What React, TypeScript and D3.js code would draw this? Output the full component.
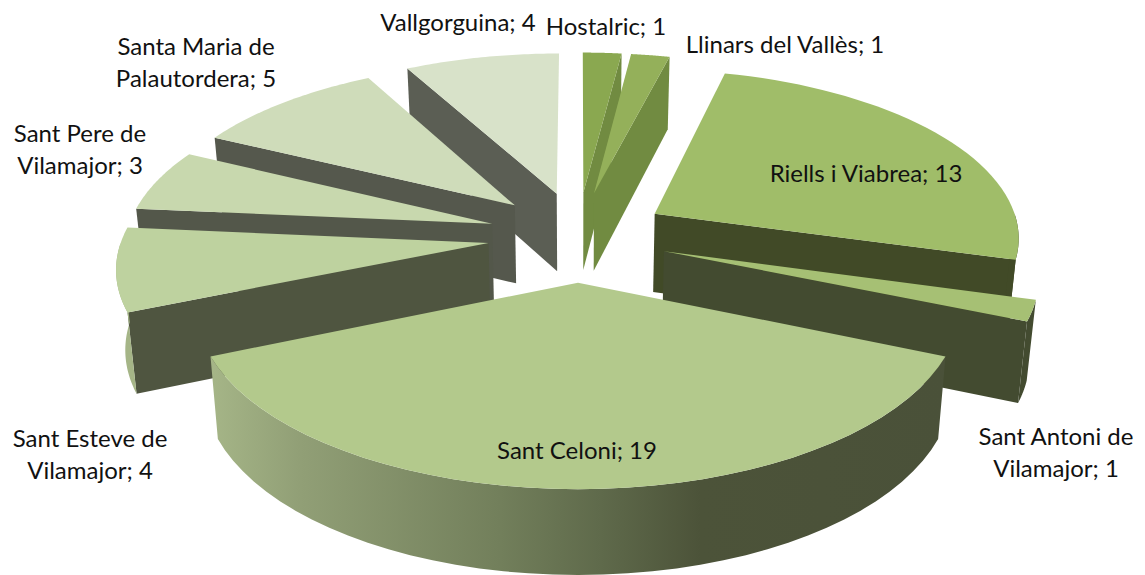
import React from 'react';
import * as d3 from 'd3';

const towns = ['Hostalric', 'Llinars del Vallès', 'Riells i Viabrea', 'Sant Antoni de Vilamajor', 'Sant Celoni', 'Sant Esteve de Vilamajor', 'Sant Pere de Vilamajor', 'Santa Maria de Palautordera', 'Vallgorguina'];
const counts = [1, 1, 13, 1, 19, 4, 3, 5, 4];
const labelLines = [['Hostalric; 1'], ['Llinars del Vallès; 1'], ['Riells i Viabrea; 13'], ['Sant Antoni de', 'Vilamajor; 1'], ['Sant Celoni; 19'], ['Sant Esteve de', 'Vilamajor; 4'], ['Sant Pere de', 'Vilamajor; 3'], ['Santa Maria de', 'Palautordera; 5'], ['Vallgorguina; 4']];
const labelX = [606, 785, 866, 1056, 577, 90, 80, 196, 458];
const labelY = [35, 53, 182, 445, 459, 447, 142, 55, 31];

const topColors = ['#8aa850', '#94b05a', '#a0bd69', '#a6c074', '#b3c98c', '#bed29f', '#c8d8ae', '#cfdcba', '#d8e2c9'];
const wallColors = ['#718b41', '#718b41', '#414a27', '#434b30', '#4a5139', '#4f5540', '#53574a', '#55584d', '#5b5e54'];
const celoniStops: [number, string][] = [[0, '#a5b587'], [0.12, '#919f76'], [0.393, '#727f5b'], [0.53, '#5f6a4b'], [0.666, '#4c5339'], [1, '#4a5139']];

const W = 1145, H = 575;
const cx = 578, cy = 236;
const rx = 366, ry = 172;
const persp = 0.129;   // near things get bigger
const explode = 0.246;
const explodeY = 0.262;
const squash = 0.975;   // rim is a bit flatter than the explode offset
const depth = 79;

// pie plane -> screen. z=0 top face, z=1 bottom face
const project = (X: number, Y: number, z: number): [number, number] => {
  const s = 1 / (1 - persp * Y);
  const px = cx + rx * X * s;
  const py = cy + ry * Y * s;
  if (!z) return [px, py];
  return [cx + (px - cx) * 0.98, py + depth * (1 + 0.07 * Y)];
};

const lineGen = d3.line().curve(d3.curveLinear);

const pie = d3.pie<number>().sort(null).value(d => d);

export default function App() {
  const arcs = pie(counts);
  const slices = arcs.map((a, i) => {
    const mid = (a.startAngle + a.endAngle) / 2;
    const ox = explode * Math.sin(mid), oy = -explodeY * Math.cos(mid);
    const rim = (t: number, z: number) => project(ox + Math.sin(t), oy - squash * Math.cos(t), z);
    const apex = (z: number) => project(ox, oy, z);
    const steps = d3.range(0, 41).map(k => a.startAngle + (a.endAngle - a.startAngle) * k / 40);
    const top = lineGen([apex(0), ...steps.map(t => rim(t, 0))]) + 'Z';
    // radial wall that faces the viewer
    let radial = '';
    const edge = a.endAngle <= Math.PI ? a.endAngle : a.startAngle >= Math.PI ? a.startAngle : null;
    if (edge !== null) {
      radial = lineGen([apex(0), rim(edge, 0), rim(edge, 1), apex(1)]) + 'Z';
    }
    // outer wall, front half only
    const from = Math.max(a.startAngle, Math.PI / 2), to = Math.min(a.endAngle, Math.PI * 1.5);
    let outer = '';
    if (to > from) {
      const vis = d3.range(0, 41).map(k => from + (to - from) * k / 40);
      outer = lineGen([...vis.map(t => rim(t, 0)), ...vis.slice().reverse().map(t => rim(t, 1))]) + 'Z';
    }
    return { i, oy, top, radial, outer };
  });
  const order = slices.slice().sort((p, q) => d3.ascending(p.oy, q.oy));

  return (
    <svg width={W} height={H} style={{ position: 'absolute', left: 0, top: 0 }}>
      <defs>
        <linearGradient id="celoniWall" gradientUnits="userSpaceOnUse" x1={212} x2={945} y1={0} y2={0}>
          {celoniStops.map(([o, c]) => <stop key={o} offset={o} stopColor={c} />)}
        </linearGradient>
      </defs>
      {order.map(s => (
        <g key={towns[s.i]}>
          {s.radial && <path d={s.radial} fill={wallColors[s.i]} />}
          {s.outer && <path d={s.outer} fill={towns[s.i] === 'Sant Celoni' ? 'url(#celoniWall)' : s.i > 4 ? '#a5b587' : wallColors[s.i]} />}
          <path d={s.top} fill={topColors[s.i]} />
        </g>
      ))}
      <g fontFamily="Lato, sans-serif" fontSize={24} fill="#111" textAnchor="middle">
        {labelLines.map((lines, i) => (
          <text key={towns[i]} x={labelX[i]} y={labelY[i]}>
            {lines.map((l, k) => <tspan key={l} x={labelX[i]} dy={k ? 32 : 0}>{l}</tspan>)}
          </text>
        ))}
      </g>
    </svg>
  );
}
